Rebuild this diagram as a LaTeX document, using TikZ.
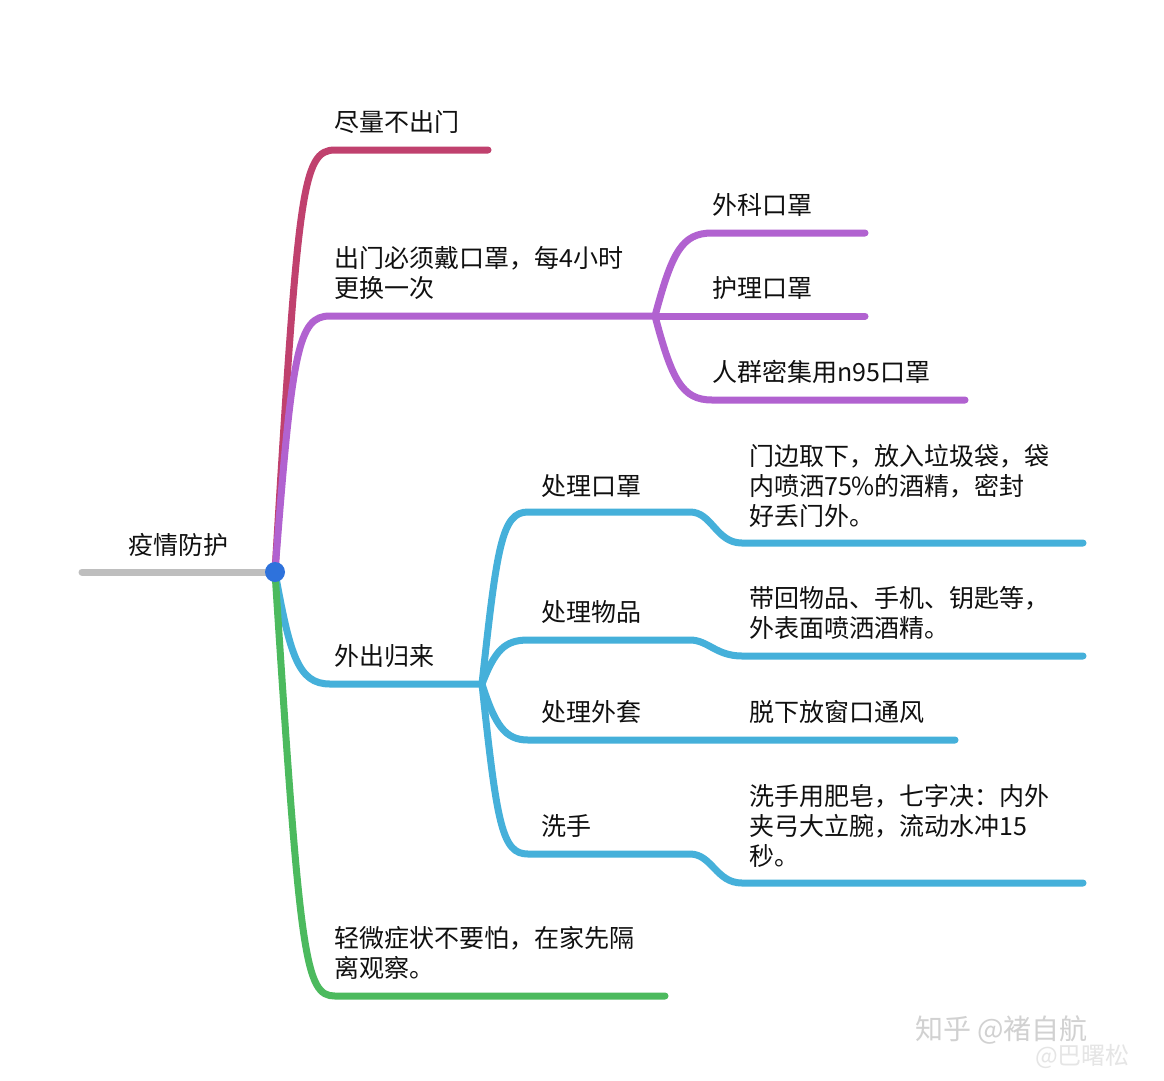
\documentclass[tikz,border=0pt]{standalone}
\usepackage{fontspec}
\setmainfont{Noto Sans CJK SC}
\usepackage{tikz}
\usetikzlibrary{positioning,calc}

\definecolor{crimbr}{HTML}{C0416E}
\definecolor{purpbr}{HTML}{B162D0}
\definecolor{bluebr}{HTML}{45B0DA}
\definecolor{greenbr}{HTML}{4CBA5E}
\definecolor{rootgray}{HTML}{BEBEBE}
\definecolor{rootdot}{HTML}{2E72DC}
\definecolor{inkc}{HTML}{101010}

\begin{document}
\begin{tikzpicture}[
    x=1pt, y=-1pt,
    topic/.style={anchor=west, inner sep=0pt, align=left, text=inkc, font=\fontsize{25}{30}\selectfont},
    wmark/.style={anchor=west, inner sep=0pt, text=black!18, font=\fontsize{28}{30}\selectfont},
    branch/.style={line width=7pt, line cap=round, line join=round},
  ]
    \fill[white] (0,0) rectangle (1164,1080);
    \useasboundingbox (0,0) rectangle (1164,1080);

    % root
    \coordinate (r0) at (82,572);
    \coordinate (root) at (275,572);
    \draw[line width=7pt, rootgray, line cap=round] (r0) -- (root);
    \node[topic, anchor=center] (t0) at (178,545) {疫情防护};

    % branch points
    \coordinate (a1) at (335,150);  \coordinate (a2) at (488,150);
    \coordinate (b1) at (330,316);  \coordinate (bf) at (655,316);
    \coordinate (c1) at (330,684);  \coordinate (cf) at (482,684);
    \coordinate (d1) at (335,996);  \coordinate (d2) at (665,996);

    \draw[branch, crimbr] (root) .. controls (298,190) and (302,150) .. (a1) -- (a2);
    \draw[branch, purpbr] (root) .. controls (292,350) and (298,316) .. (b1) -- (bf);
    \draw[branch, bluebr] (root) .. controls (290,655) and (298,684) .. (c1) -- (cf);
    \draw[branch, greenbr] (root) .. controls (300,960) and (305,996) .. (d1) -- (d2);

    % purple leaves
    \coordinate (bx1) at (865,233);
    \coordinate (bx2) at (865,316);
    \coordinate (bx3) at (965,400);
    \draw[branch, purpbr] (bf) .. controls (672,252) and (682,233) .. (712,233) -- (bx1);
    \draw[branch, purpbr] (bf) -- (bx2);
    \draw[branch, purpbr] (bf) .. controls (672,380) and (682,400) .. (712,400) -- (bx3);

    % blue leaves
    \coordinate (cx1) at (1083,543);
    \coordinate (cx2) at (1083,656);
    \coordinate (cx3) at (955,740);
    \coordinate (cx4) at (1083,883);
    \draw[branch, bluebr] (cf) .. controls (497,545) and (502,512) .. (528,512) -- (690,512)
        .. controls (712,512) and (716,543) .. (742,543) -- (cx1);
    \draw[branch, bluebr] (cf) .. controls (495,650) and (505,640) .. (528,640) -- (690,640)
        .. controls (708,640) and (716,656) .. (742,656) -- (cx2);
    \draw[branch, bluebr] (cf) .. controls (495,725) and (505,740) .. (528,740) -- (cx3);
    \draw[branch, bluebr] (cf) .. controls (497,825) and (502,854) .. (528,854) -- (690,854)
        .. controls (712,854) and (716,883) .. (742,883) -- (cx4);

    \fill[rootdot] (root) circle (10);

    % texts
    \node[topic] (t1) at (334,122) {尽量不出门};
    \node[topic] (t2) at (334,273) {出门必须戴口罩，每4小时\\更换一次};
    \node[topic] (t21) at (712,205) {外科口罩};
    \node[topic] (t22) at (712,288) {护理口罩};
    \node[topic] (t23) at (712,372) {人群密集用n95口罩};
    \node[topic] (t3) at (334,656) {外出归来};
    \node[topic] (t31) at (541,486) {处理口罩};
    \node[topic] (t32) at (541,612) {处理物品};
    \node[topic] (t33) at (541,712) {处理外套};
    \node[topic] (t34) at (541,826) {洗手};
    \node[topic] (l31) at (749,486) {门边取下，放入垃圾袋，袋\\内喷洒75\%的酒精，密封\\好丢门外。};
    \node[topic] (l32) at (749,613) {带回物品、手机、钥匙等，\\外表面喷洒酒精。};
    \node[topic] (l33) at (749,712) {脱下放窗口通风};
    \node[topic] (l34) at (749,826) {洗手用肥皂，七字决：内外\\夹弓大立腕，流动水冲15\\秒。};
    \node[topic] (t4) at (334,953) {轻微症状不要怕，在家先隔\\离观察。};

    % watermark
    \node[wmark] (wm1) at (915,1030) {知乎 @褚自航};
    \node[wmark, font=\fontsize{24}{26}\selectfont, text=black!10] (wm2) at (1035,1056) {@巴曙松};
  \end{tikzpicture}
\end{document}
